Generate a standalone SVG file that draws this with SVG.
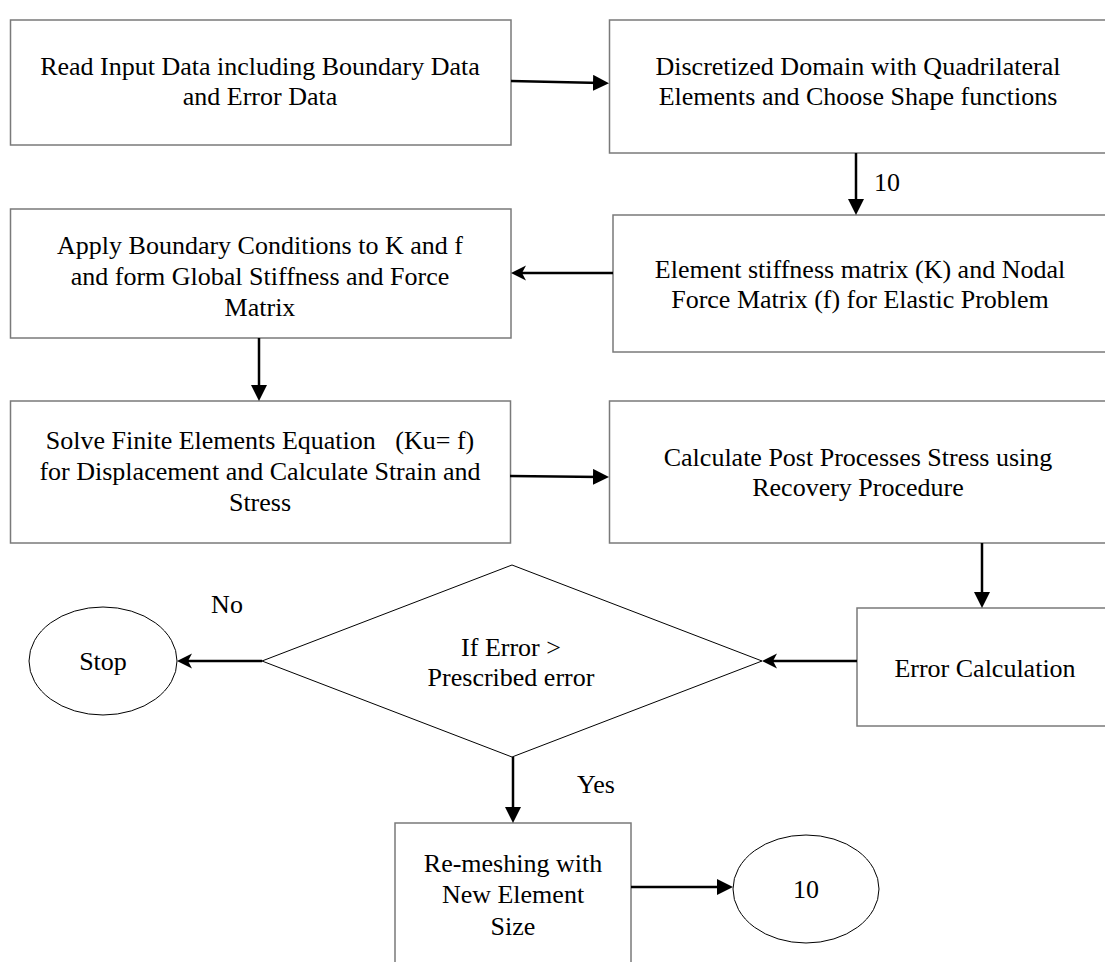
<svg xmlns="http://www.w3.org/2000/svg" width="1105" height="962" viewBox="0 0 1105 962">
<style>
text{font-family:"Liberation Serif","Times New Roman",serif;font-size:26px;fill:#000;text-anchor:middle}
.box{fill:#fff;stroke:#7a7a7a;stroke-width:1.5}
.shape{fill:#fff;stroke:#000;stroke-width:1}
.conn{fill:none;stroke:#000;stroke-width:2.5}
.tri{marker-end:url(#tri)}
.stl{marker-end:url(#stl)}
</style>
<defs>
<marker id="tri" markerUnits="userSpaceOnUse" markerWidth="16" markerHeight="16" refX="8" refY="8" orient="auto">
<path d="M0,0 L16,8 L0,16 z" fill="#000"/>
</marker>
<marker id="stl" markerUnits="userSpaceOnUse" markerWidth="16" markerHeight="16" refX="7" refY="7.5" orient="auto">
<path d="M0,0 L15,7.5 L0,15 L4,7.5 z" fill="#000"/>
</marker>
</defs>
<rect width="1105" height="962" fill="#fff"/>

<g id="read-input">
<rect class="box" x="10.5" y="20" width="500.5" height="125"/>
<text x="260" y="75">Read Input Data including Boundary Data</text>
<text x="260" y="105">and Error Data</text>
</g>

<g id="discretize">
<rect class="box" x="609.5" y="20" width="510" height="133"/>
<text x="858" y="75">Discretized Domain with Quadrilateral</text>
<text x="858" y="105">Elements and Choose Shape functions</text>
</g>

<g id="element-stiffness">
<rect class="box" x="613" y="215" width="510" height="137"/>
<text x="860" y="278">Element stiffness matrix (K) and Nodal</text>
<text x="860" y="308">Force Matrix (f) for Elastic Problem</text>
</g>

<g id="apply-bc">
<rect class="box" x="10.5" y="209" width="500.5" height="129"/>
<text x="260" y="254">Apply Boundary Conditions to K and f</text>
<text x="260" y="285">and form Global Stiffness and Force</text>
<text x="260" y="316">Matrix</text>
</g>

<g id="solve">
<rect class="box" x="10.5" y="401" width="500" height="142"/>
<text x="260" y="449" xml:space="preserve">Solve Finite Elements Equation   (Ku= f)</text>
<text x="260" y="480">for Displacement and Calculate Strain and</text>
<text x="260" y="511">Stress</text>
</g>

<g id="post-process">
<rect class="box" x="609.5" y="401" width="510" height="142"/>
<text x="858" y="466">Calculate Post Processes Stress using</text>
<text x="858" y="496">Recovery Procedure</text>
</g>

<g id="error-calc">
<rect class="box" x="857" y="608" width="260" height="118"/>
<text x="985" y="677">Error Calculation</text>
</g>

<g id="decision">
<polygon class="shape" points="512,565 762,661 512,757 262,661"/>
<text x="511" y="656">If Error &gt;</text>
<text x="511" y="686">Prescribed error</text>
</g>

<g id="stop">
<ellipse class="shape" cx="103" cy="661" rx="74" ry="54"/>
<text x="103" y="670">Stop</text>
</g>

<g id="remesh">
<rect class="box" x="395" y="823" width="236" height="170"/>
<text x="513" y="872">Re-meshing with</text>
<text x="513" y="903">New Element</text>
<text x="513" y="935">Size</text>
</g>

<g id="goto-10">
<ellipse class="shape" cx="806" cy="889" rx="73" ry="54"/>
<text x="806" y="898">10</text>
</g>

<g id="connectors">
<line class="conn tri" x1="511" y1="81" x2="601" y2="83"/>
<line class="conn tri" x1="856" y1="153" x2="856" y2="207"/>
<line class="conn stl" x1="613" y1="273" x2="519" y2="273"/>
<line class="conn tri" x1="259" y1="338" x2="259" y2="393"/>
<line class="conn tri" x1="510" y1="476" x2="601" y2="477"/>
<line class="conn tri" x1="982" y1="543" x2="982" y2="600"/>
<line class="conn stl" x1="857" y1="661" x2="770" y2="661"/>
<line class="conn stl" x1="262" y1="661" x2="185" y2="661"/>
<line class="conn tri" x1="513" y1="757" x2="513" y2="815"/>
<line class="conn tri" x1="631" y1="887" x2="725" y2="887"/>
</g>

<g id="labels">
<text x="887" y="191">10</text>
<text x="227" y="613">No</text>
<text x="596" y="793">Yes</text>
</g>
</svg>
